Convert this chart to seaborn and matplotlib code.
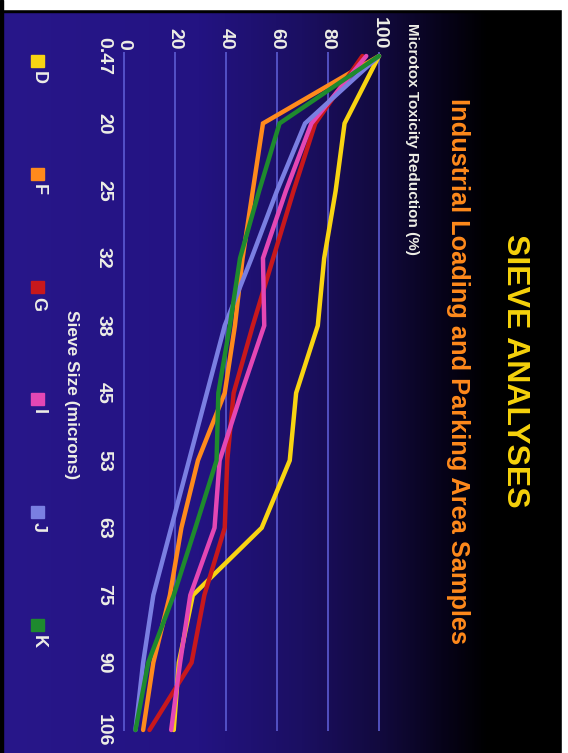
import numpy as np
import pandas as pd
import matplotlib
matplotlib.use("Agg")
import matplotlib.pyplot as plt
from matplotlib.colors import LinearSegmentedColormap
from matplotlib.patches import Rectangle
import seaborn as sns

# ---- data -------------------------------------------------------------
sieve_sizes = ["0.47", "20", "25", "32", "38", "45", "53", "63", "75", "90", "106"]
samples = ["D", "F", "G", "I", "J", "K"]

D = [100, 86.5, 83, 78.5, 76, 67.5, 65, 54, 27, 21.5, 19.5]
F = [100, 54.5, 50.5, 46.5, 43.5, 39.5, 29, 22.5, 18, 11.5, 7.5]
G = [93.5, 75, 66.5, 58.5, 50.5, 43, 40.5, 39.5, 31.5, 26.5, 10]
I = [95, 73.5, 63.5, 54.5, 55, 46, 37.5, 35.5, 26, 22, 18.5]
J = [100, 71, 60, 50, 39.5, 32.5, 25.5, 18.5, 11.5, 7.5, 4.5]
K = [100, 61, 53, 45.5, 41.5, 37, 36.3, 28, 19.5, 9.5, 4.5]

value_ticks = [0, 20, 40, 60, 80, 100]

colors = {
    "D": "#f8d412",
    "F": "#ff8a1c",
    "G": "#c8181c",
    "I": "#e447b4",
    "J": "#7a7fe2",
    "K": "#1e8a2e",
}

series = {"D": D, "F": F, "G": G, "I": I, "J": J, "K": K}
rows = []
for name in samples:
    for pos, val in enumerate(series[name]):
        rows.append({"sample": name, "pos": pos, "value": val})
df = pd.DataFrame(rows)

# ---- figure -----------------------------------------------------------
sns.set_theme(style="white")
plt.rcParams["font.family"] = ["Liberation Sans Narrow", "Liberation Sans", "DejaVu Sans"]

W, H = 568, 753
TXT = "#eeeee6"
fig = plt.figure(figsize=(W / 100, H / 100), dpi=100)
fig.patch.set_facecolor("black")

# background: purple-blue fading to black toward the title side
bg = fig.add_axes([0, 0, 1, 1], zorder=-10)
bg.set_axis_off()
stops = [(0.0, "#28178a"), (0.35, "#231382"), (0.53, "#1b0f62"),
         (0.67, "#120a3e"), (0.78, "#07031a"), (0.86, "#000000"), (1.0, "#000000")]
cmap = LinearSegmentedColormap.from_list("bg", stops)
grad = np.linspace(0, 1, 600)[None, :]
bg.imshow(grad, aspect="auto", cmap=cmap, extent=[0, 1, 0, 1])
bg.set_xlim(0, 1)
bg.set_ylim(0, 1)
# frame edges
bg.add_patch(Rectangle((0, 1 - 9 / H), 1, 9 / H, color="white", zorder=5))
bg.add_patch(Rectangle((0, 1 - 12 / H), 1, 3 / H, color="black", zorder=4))
bg.add_patch(Rectangle((1 - 6 / W, 0), 6 / W, 1, color="white", zorder=5))
bg.add_patch(Rectangle((0, 0), 3 / W, 1, color="black", zorder=5))

# main axes: value runs left->right, sieve size runs top->bottom
px_per_unit = 2.55
x0_px, x_pad = 124, 2
left = (x0_px - x_pad * px_per_unit) / W
width = (100 + 2 * x_pad) * px_per_unit / W
step = 67.4
y_first_px, pad_top, pad_bot = 56, 0.06, 0.01
top = 1 - (y_first_px - pad_top * step) / H
height = (10 + pad_top + pad_bot) * step / H
ax = fig.add_axes([left, top - height, width, height])
ax.set_facecolor("none")

sns.lineplot(data=df, x="value", y="pos", hue="sample", palette=colors,
             hue_order=samples, orient="y", estimator=None, sort=True,
             linewidth=3.2, legend=False, ax=ax)
for ln in ax.get_lines():
    ln.set_clip_on(False)
    ln.set_solid_joinstyle("miter")

ax.set_xlim(-x_pad, 100 + x_pad)
ax.set_ylim(10 + pad_bot, -pad_top)

ax.set_xticks(value_ticks)
ax.set_xticklabels([str(v) for v in value_ticks])
ax.set_yticks(range(len(sieve_sizes)))
ax.set_yticklabels(sieve_sizes)
ax.xaxis.tick_top()
ax.tick_params(axis="x", length=0, pad=1.5, labelsize=14, labelcolor=TXT)
ax.tick_params(axis="y", length=0, pad=5, labelsize=14, labelcolor=TXT)
for t in ax.get_xticklabels():
    t.set_rotation(-90)
    t.set_fontweight("bold")
    t.set_va("bottom")
    t.set_ha("center")
for t in ax.get_yticklabels():
    t.set_rotation(-90)
    t.set_fontweight("bold")
    t.set_ha("right")
    t.set_va("center")

ax.grid(axis="x", color="#5c5cd2", linewidth=1.2)
ax.grid(axis="y", visible=False)
ax.set_axisbelow(True)
for s in ax.spines.values():
    s.set_visible(False)
ax.set_xlabel("")
ax.set_ylabel("")

# titles and axis names
fig.text(515 / W, 1 - 371 / H, "SIEVE ANALYSES", rotation=-90, ha="center", va="center",
         fontsize=23, fontweight="bold", color="#f6d20c")
fig.text(458 / W, 1 - 371 / H, "Industrial Loading and Parking Area Samples", rotation=-90,
         ha="center", va="center", fontsize=18.3, fontweight="bold", color="#ff8a1c")
fig.text(412 / W, 1 - 23 / H, "Microtox Toxicity Reduction (%)", rotation=-90,
         ha="center", va="top", fontsize=11, fontweight="bold", color=TXT)
fig.text(71 / W, 1 - 395 / H, "Sieve Size (microns)", rotation=-90,
         ha="center", va="center", fontsize=12.5, fontweight="bold", color=TXT)

# legend: colour chip followed by sample letter, running down the page
for i, name in enumerate(samples):
    y0 = 55 + i * 112.8
    fig.add_artist(Rectangle((31 / W, 1 - (y0 + 12) / H), 13 / W, 12 / H,
                             transform=fig.transFigure, color=colors[name]))
    fig.text(38 / W, 1 - (y0 + 16) / H, name, rotation=-90, ha="center", va="top",
             fontsize=13, fontweight="bold", color=TXT)

fig.savefig("out.png", dpi=100, facecolor=fig.get_facecolor())
